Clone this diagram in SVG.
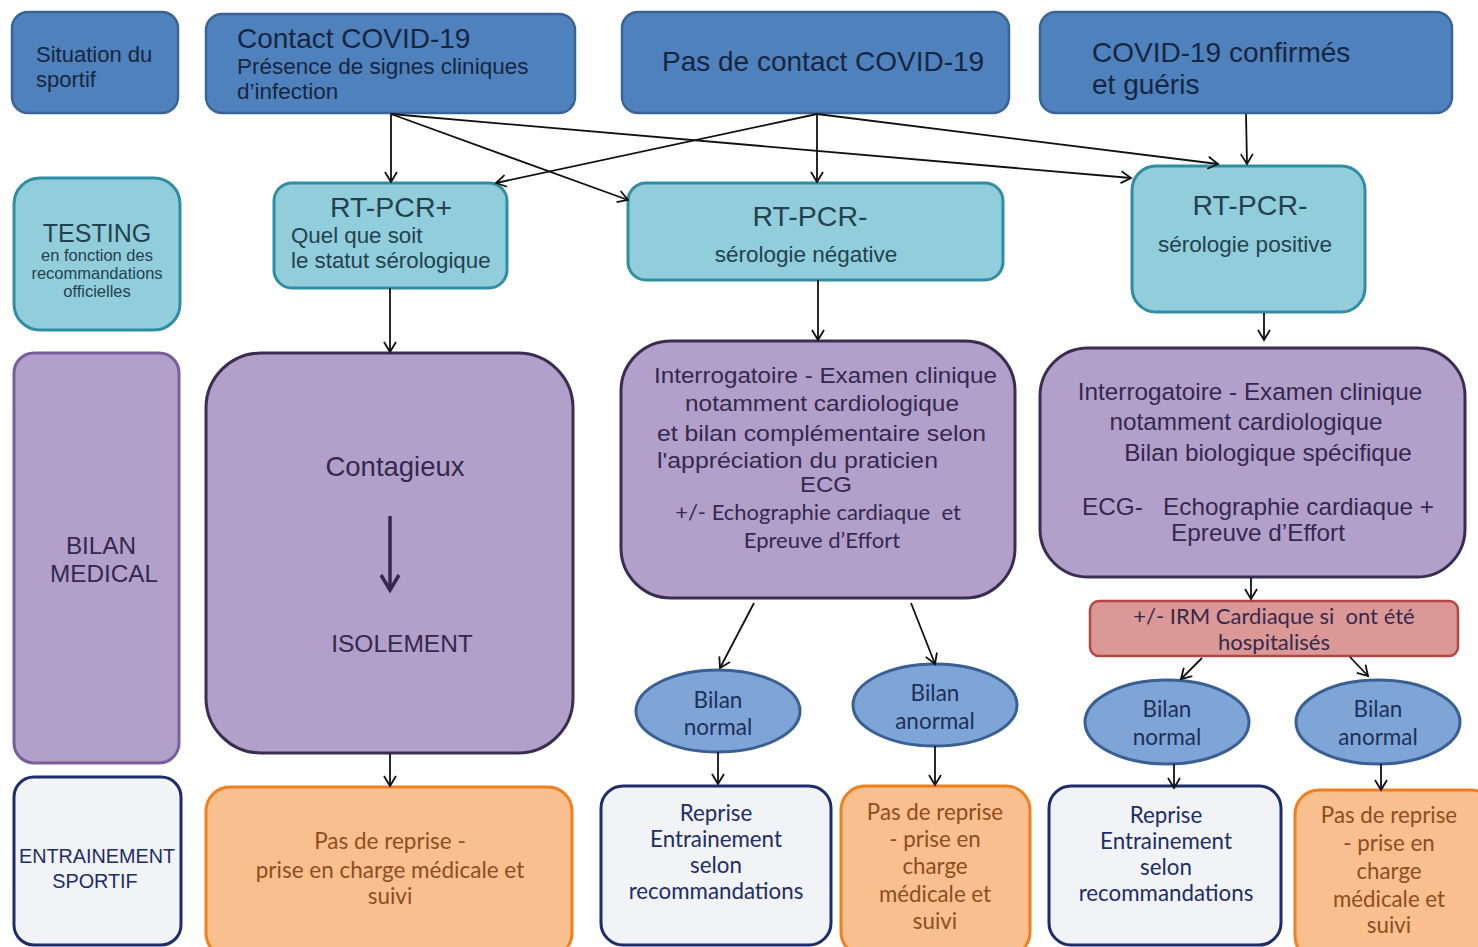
<svg xmlns="http://www.w3.org/2000/svg" width="1478" height="947" viewBox="0 0 1478 947">
<defs>
<marker id="ah" markerWidth="14" markerHeight="14" refX="11" refY="7" orient="auto" markerUnits="userSpaceOnUse">
<path d="M1,1 L11,7 L1,13" fill="none" stroke="#111" stroke-width="1.8"/>
</marker>
<style>
text{white-space:pre}
.top{fill:#4f81bd;stroke:#3a6496;stroke-width:2.5}
.teal{fill:#92cddc;stroke:#2f8ea3;stroke-width:3}
.purp{fill:#b3a0ca;stroke:#3b2d52;stroke-width:3}
.purpl{fill:#b3a0ca;stroke:#7a5e9c;stroke-width:3}
.ell{fill:#7fa5d7;stroke:#3a5f95;stroke-width:3}
.red{fill:#dc9896;stroke:#b44646;stroke-width:2.5}
.orng{fill:#fabf8f;stroke:#f0801f;stroke-width:3}
.light{fill:#f1f3f6;stroke:#1d2c6b;stroke-width:3}
.a{font-family:"Liberation Sans",Arial,sans-serif}
.c{font-family:Lato,"Liberation Sans",sans-serif}
.tb{fill:#172640}
.tt{fill:#22424e}
.tp{fill:#35284d}
.te{fill:#1c3058}
.to{fill:#8e4d1e}
.tn{fill:#1d2c6b}
.mid{text-anchor:middle}
.conn line{stroke:#111;stroke-width:1.8;marker-end:url(#ah)}
</style>
</defs>
<rect width="1478" height="947" fill="#ffffff"/>

<g id="situation">
<rect class="top" x="12" y="12" width="166" height="101" rx="16"/>
<text class="a tb" font-size="22" x="36" y="62">Situation du</text>
<text class="a tb" font-size="22" x="36" y="87">sportif</text>
</g>
<g id="contact">
<rect class="top" x="206" y="14" width="369" height="99" rx="16"/>
<text class="a tb" font-size="28" x="237" y="48">Contact COVID-19</text>
<text class="a tb" font-size="22.5" x="237" y="74">Présence de signes cliniques</text>
<text class="a tb" font-size="22.5" x="237" y="99">d’infection</text>
</g>
<g id="pascontact">
<rect class="top" x="622" y="12" width="387" height="101" rx="16"/>
<text class="a tb" font-size="28" x="662" y="71">Pas de contact COVID-19</text>
</g>
<g id="confirmes">
<rect class="top" x="1040" y="12" width="412" height="101" rx="16"/>
<text class="a tb" font-size="28" x="1092" y="62">COVID-19 confirmés</text>
<text class="a tb" font-size="28" x="1092" y="94">et guéris</text>
</g>

<g id="testing">
<rect class="teal" x="14" y="178" width="166" height="152" rx="26"/>
<text class="a tt mid" font-size="25" x="97" y="242">TESTING</text>
<text class="a tt mid" font-size="16.5" x="97" y="261">en fonction des</text>
<text class="a tt mid" font-size="16.5" x="97" y="279">recommandations</text>
<text class="a tt mid" font-size="16.5" x="97" y="297">officielles</text>
</g>
<g id="rtpcrplus">
<rect class="teal" x="274" y="183" width="233" height="105" rx="18"/>
<text class="a tt mid" font-size="28.5" x="391" y="217">RT-PCR+</text>
<text class="a tt" font-size="22.3" x="291" y="243">Quel que soit</text>
<text class="a tt" font-size="22.3" x="291" y="268">le statut sérologique</text>
</g>
<g id="rtpcrneg">
<rect class="teal" x="628" y="183" width="375" height="97" rx="18"/>
<text class="a tt mid" font-size="28.5" x="810" y="226">RT-PCR-</text>
<text class="a tt mid" font-size="22.5" x="806" y="262">sérologie négative</text>
</g>
<g id="rtpcrpos">
<rect class="teal" x="1132" y="166" width="233" height="146" rx="24"/>
<text class="a tt mid" font-size="28.5" x="1250" y="215">RT-PCR-</text>
<text class="a tt mid" font-size="22.5" x="1245" y="252">sérologie positive</text>
</g>

<g id="bilanmedical">
<rect class="purpl" x="14" y="353" width="165" height="410" rx="20"/>
<text class="a tp mid" font-size="24.3" x="101" y="554">BILAN</text>
<text class="a tp mid" font-size="24.3" x="104" y="582">MEDICAL</text>
</g>
<g id="contagieux">
<rect class="purp" x="206" y="353" width="367" height="400" rx="55"/>
<text class="a tp mid" font-size="27.5" x="395" y="476">Contagieux</text>
<line x1="390" y1="516" x2="390" y2="588" stroke="#35284d" stroke-width="3.5"/>
<path d="M381,575 L390,590 L399,575" fill="none" stroke="#35284d" stroke-width="3.5"/>
<text class="a tp mid" font-size="24.5" x="402" y="652">ISOLEMENT</text>
</g>
<g id="examen1">
<rect class="purp" x="621" y="341" width="394" height="257" rx="50"/>
<text class="a tp" font-size="22" x="654" y="383" textLength="343" lengthAdjust="spacingAndGlyphs">Interrogatoire - Examen clinique</text>
<text class="a tp" font-size="22" x="685" y="411" textLength="274" lengthAdjust="spacingAndGlyphs">notamment cardiologique</text>
<text class="a tp" font-size="22" x="657" y="441" textLength="329" lengthAdjust="spacingAndGlyphs">et bilan complémentaire selon</text>
<text class="a tp" font-size="22" x="657" y="468" textLength="281" lengthAdjust="spacingAndGlyphs">l'appréciation du praticien</text>
<text class="a tp" font-size="22" x="800" y="492" textLength="52" lengthAdjust="spacingAndGlyphs">ECG</text>
<text class="c tp mid" font-size="22" x="818" y="520">+/- Echographie cardiaque  et</text>
<text class="c tp mid" font-size="22" x="822" y="548">Epreuve d’Effort</text>
</g>
<g id="examen2">
<rect class="purp" x="1040" y="348" width="425" height="229" rx="48"/>
<text class="a tp mid" font-size="24.3" x="1250" y="400">Interrogatoire - Examen clinique</text>
<text class="a tp mid" font-size="24.3" x="1246" y="430">notamment cardiologique</text>
<text class="a tp mid" font-size="24.3" x="1268" y="461">Bilan biologique spécifique</text>
<text class="a tp mid" font-size="24.3" x="1258" y="515">ECG-   Echographie cardiaque +</text>
<text class="a tp mid" font-size="24.3" x="1258" y="541">Epreuve d’Effort</text>
</g>
<g id="irm">
<rect class="red" x="1090" y="601" width="368" height="55" rx="9"/>
<text class="c tp mid" font-size="22" x="1274" y="624">+/- IRM Cardiaque si  ont été</text>
<text class="c tp mid" font-size="22" x="1274" y="650">hospitalisés</text>
</g>

<g id="bilannormal1">
<ellipse class="ell" cx="718" cy="711" rx="82" ry="41"/>
<text class="c te mid" font-size="22.5" x="718" y="708">Bilan</text>
<text class="c te mid" font-size="22.5" x="718" y="735">normal</text>
</g>
<g id="bilananormal1">
<ellipse class="ell" cx="935" cy="705" rx="82" ry="41"/>
<text class="c te mid" font-size="22.5" x="935" y="701">Bilan</text>
<text class="c te mid" font-size="22.5" x="935" y="729">anormal</text>
</g>
<g id="bilannormal2">
<ellipse class="ell" cx="1167" cy="722" rx="82" ry="42"/>
<text class="c te mid" font-size="22.5" x="1167" y="717">Bilan</text>
<text class="c te mid" font-size="22.5" x="1167" y="745">normal</text>
</g>
<g id="bilananormal2">
<ellipse class="ell" cx="1378" cy="722" rx="82" ry="42"/>
<text class="c te mid" font-size="22.5" x="1378" y="717">Bilan</text>
<text class="c te mid" font-size="22.5" x="1378" y="745">anormal</text>
</g>

<g id="entrainement">
<rect class="light" x="14" y="777" width="167" height="168" rx="20"/>
<text class="a tn mid" font-size="19.8" x="97" y="863">ENTRAINEMENT</text>
<text class="a tn mid" font-size="19.8" x="95" y="888">SPORTIF</text>
</g>
<g id="pasreprise1">
<rect class="orng" x="206" y="787" width="366" height="170" rx="24"/>
<text class="c to mid" font-size="22.5" x="390" y="849">Pas de reprise -</text>
<text class="c to mid" font-size="22.5" x="390" y="878">prise en charge médicale et</text>
<text class="c to mid" font-size="22.5" x="390" y="904">suivi</text>
</g>
<g id="reprise1">
<rect class="light" x="601" y="786" width="230" height="159" rx="22"/>
<text class="c tn mid" font-size="22.3" x="716" y="821">Reprise</text>
<text class="c tn mid" font-size="22.3" x="716" y="847">Entrainement</text>
<text class="c tn mid" font-size="22.3" x="716" y="873">selon</text>
<text class="c tn mid" font-size="22.3" x="716" y="899">recommandations</text>
</g>
<g id="pasreprise2">
<rect class="orng" x="841" y="786" width="189" height="170" rx="24"/>
<text class="c to mid" font-size="22.3" x="935" y="820">Pas de reprise</text>
<text class="c to mid" font-size="22.3" x="935" y="847">- prise en</text>
<text class="c to mid" font-size="22.3" x="935" y="874">charge</text>
<text class="c to mid" font-size="22.3" x="935" y="902">médicale et</text>
<text class="c to mid" font-size="22.3" x="935" y="929">suivi</text>
</g>
<g id="reprise2">
<rect class="light" x="1049" y="786" width="232" height="159" rx="22"/>
<text class="c tn mid" font-size="22.3" x="1166" y="823">Reprise</text>
<text class="c tn mid" font-size="22.3" x="1166" y="849">Entrainement</text>
<text class="c tn mid" font-size="22.3" x="1166" y="875">selon</text>
<text class="c tn mid" font-size="22.3" x="1166" y="901">recommandations</text>
</g>
<g id="pasreprise3">
<rect class="orng" x="1295" y="790" width="200" height="170" rx="24"/>
<text class="c to mid" font-size="22.3" x="1389" y="823">Pas de reprise</text>
<text class="c to mid" font-size="22.3" x="1389" y="851">- prise en</text>
<text class="c to mid" font-size="22.3" x="1389" y="879">charge</text>
<text class="c to mid" font-size="22.3" x="1389" y="907">médicale et</text>
<text class="c to mid" font-size="22.3" x="1389" y="933">suivi</text>
</g>

<g id="connectors" class="conn">
<line x1="391" y1="114" x2="391" y2="182"/>
<line x1="391" y1="114" x2="628" y2="200"/>
<line x1="391" y1="114" x2="1131" y2="178"/>
<line x1="817" y1="114" x2="496" y2="183"/>
<line x1="817" y1="114" x2="817" y2="182"/>
<line x1="817" y1="114" x2="1218" y2="164"/>
<line x1="1246" y1="114" x2="1247" y2="164"/>
<line x1="390" y1="288" x2="390" y2="352"/>
<line x1="818" y1="280" x2="818" y2="340"/>
<line x1="1264" y1="313" x2="1264" y2="340"/>
<line x1="390" y1="754" x2="390" y2="786"/>
<line x1="754" y1="603" x2="720" y2="668"/>
<line x1="911" y1="603" x2="935" y2="664"/>
<line x1="1251" y1="578" x2="1251" y2="599"/>
<line x1="1202" y1="658" x2="1181" y2="679"/>
<line x1="1350" y1="657" x2="1368" y2="676"/>
<line x1="718" y1="752" x2="718" y2="784"/>
<line x1="935" y1="746" x2="935" y2="785"/>
<line x1="1174" y1="764" x2="1174" y2="788"/>
<line x1="1381" y1="764" x2="1381" y2="790"/>
</g>
</svg>
